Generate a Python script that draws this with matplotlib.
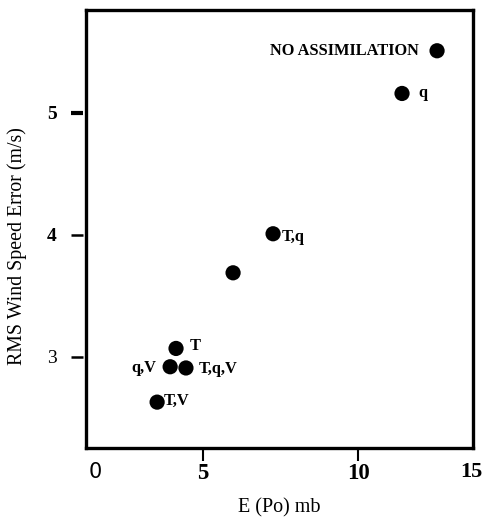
import matplotlib
matplotlib.use("Agg")
import matplotlib.pyplot as plt

# data
labels = ["NO ASSIMILATION", "q", "T,q", "", "T", "q,V", "T,q,V", "T,V"]
e_po = [12.55, 11.42, 7.26, 5.97, 4.13, 3.94, 4.45, 3.52]
rms_wind = [5.51, 5.16, 4.01, 3.69, 3.07, 2.92, 2.91, 2.63]

# label placement (offset in points, alignment)
label_pos = [(-13, 0, "right"), (12, 0, "left"), (6, -2, "left"), (0, 0, "left"),
             (10, 2, "left"), (-10, -1, "right"), (9, -1, "left"), (5, 1, "left")]

xticks = [5, 10]
yticks = [3, 4, 5]

plt.rcParams["font.family"] = ["Liberation Serif", "DejaVu Serif"]

fig = plt.figure(figsize=(4.84, 5.19), dpi=100)
ax = fig.add_axes([0.1777, 0.1368, 0.7996, 0.8439])

ax.scatter(e_po, rms_wind, s=120, color="black", zorder=3, edgecolors="none")

for lab, x, y, (dx, dy, ha) in zip(labels, e_po, rms_wind, label_pos):
    if lab:
        ax.annotate(lab, (x, y), xytext=(dx, dy), textcoords="offset points",
                    ha=ha, va="center", fontsize=11.8, fontweight="bold")

ax.set_xlim(1.226, 13.71)
ax.set_ylim(2.254, 5.844)

for sp in ax.spines.values():
    sp.set_linewidth(2.4)

# x ticks
ax.set_xticks(xticks)
ax.set_xticklabels([str(t) for t in xticks], fontsize=16.5, fontweight="bold")
ax.tick_params(axis="x", direction="out", length=9, width=1.5, pad=2)

# extra x labels outside the tick set
ax.text(0.0235, -0.055, "0", transform=ax.transAxes, ha="center", va="center",
        fontsize=15, family="DejaVu Sans")
ax.text(1.024, -0.055, "15", transform=ax.transAxes, ha="right", va="center",
        fontsize=16, fontweight="bold")

# y ticks: detached marks drawn by hand
ax.set_yticks(yticks)
ax.set_yticklabels([str(t) for t in yticks], fontsize=14)
for lbl in ax.get_yticklabels()[1:]:
    lbl.set_fontweight("bold")
ax.tick_params(axis="y", length=0, pad=21)
ytr = ax.get_yaxis_transform()
for t, lw in zip(yticks, [1.8, 1.8, 3.0]):
    ax.plot([-0.039, -0.008], [t, t], transform=ytr, color="black", lw=lw,
            clip_on=False, solid_capstyle="butt")

ax.set_xlabel("E (Po) mb", fontsize=14.5)
ax.set_ylabel("RMS Wind Speed Error (m/s)", fontsize=14.3)
ax.yaxis.set_label_coords(-0.152, 0.46)
ax.xaxis.set_label_coords(0.5, -0.115)

fig.savefig("out.png", dpi=100)
